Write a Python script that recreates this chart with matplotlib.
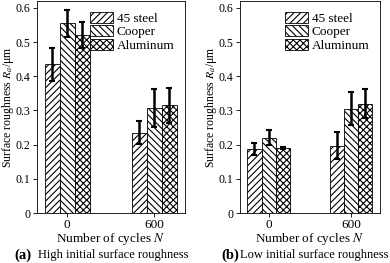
import numpy as np
import matplotlib.pyplot as plt

plt.rcParams['font.family'] = ['Liberation Serif', 'DejaVu Serif']
plt.rcParams['mathtext.fontset'] = 'stix'
plt.rcParams['hatch.linewidth'] = 0.8

# data
cycles = ['0', '600']
materials = ['45 steel', 'Cooper', 'Aluminum']
hatches = ['/////', '\\\\\\\\\\', 'xxxxx']

# (a) high initial surface roughness
high_mean = [[0.435, 0.235], [0.555, 0.308], [0.520, 0.315]]
high_err = [[0.048, 0.033], [0.040, 0.055], [0.038, 0.052]]

# (b) low initial surface roughness
low_mean = [[0.187, 0.197], [0.220, 0.305], [0.190, 0.320]]
low_err = [[0.018, 0.040], [0.022, 0.048], [0.004, 0.043]]

fig = plt.figure(figsize=(3.9, 2.63), dpi=100)
ax_a = fig.add_axes([0.094, 0.19, 0.380, 0.806])
ax_b = fig.add_axes([0.615, 0.19, 0.359, 0.806])

x = np.arange(len(cycles))
w = 0.173
fs = 9.5


def draw(ax, means, errs):
    for i in range(len(materials)):
        ax.bar(x + (i - 1) * w, means[i], w, yerr=errs[i], color='white',
               edgecolor='black', linewidth=0.6, hatch=hatches[i],
               label=materials[i],
               error_kw=dict(ecolor='black', elinewidth=1.8, capsize=2.5,
                             capthick=1.5))
    ax.set_xlim(-0.35, 1.35)
    ax.set_ylim(0, 0.62)
    ax.set_xticks(x)
    ax.set_xticklabels(cycles)
    ax.set_yticks(np.arange(0, 0.61, 0.1))
    ax.set_yticklabels(['0', '0.1', '0.2', '0.3', '0.4', '0.5', '0.6'])
    ax.tick_params(labelsize=8.6, length=3, width=0.6, pad=1.5)
    ax.tick_params(axis='x', labelsize=fs, pad=1)
    for s in ax.spines.values():
        s.set_linewidth(0.6)
    ax.set_ylabel('Surface roughness $R_a$/\u03bcm', fontsize=8.5, labelpad=0)
    ax.set_xlabel('Number of cycles $N$', fontsize=fs, labelpad=0)
    ax.legend(loc='upper right', frameon=False, fontsize=fs,
              handlelength=1.8, handleheight=0.9, handletextpad=0.25,
              labelspacing=0.05, borderaxespad=0.4)


draw(ax_a, high_mean, high_err)
draw(ax_b, low_mean, low_err)
# keep the left label inside the figure
ax_a.yaxis.set_label_coords(-0.142, 0.5)

fig.text(0.038, 0.03, '(a)', fontsize=10.5, fontweight='bold', va='center')
fig.text(0.098, 0.03, 'High initial surface roughness', fontsize=9, va='center')
fig.text(0.567, 0.03, '(b)', fontsize=10.5, fontweight='bold', va='center')
fig.text(0.616, 0.03, 'Low initial surface roughness', fontsize=9, va='center')

fig.savefig('out.png', dpi=100)
